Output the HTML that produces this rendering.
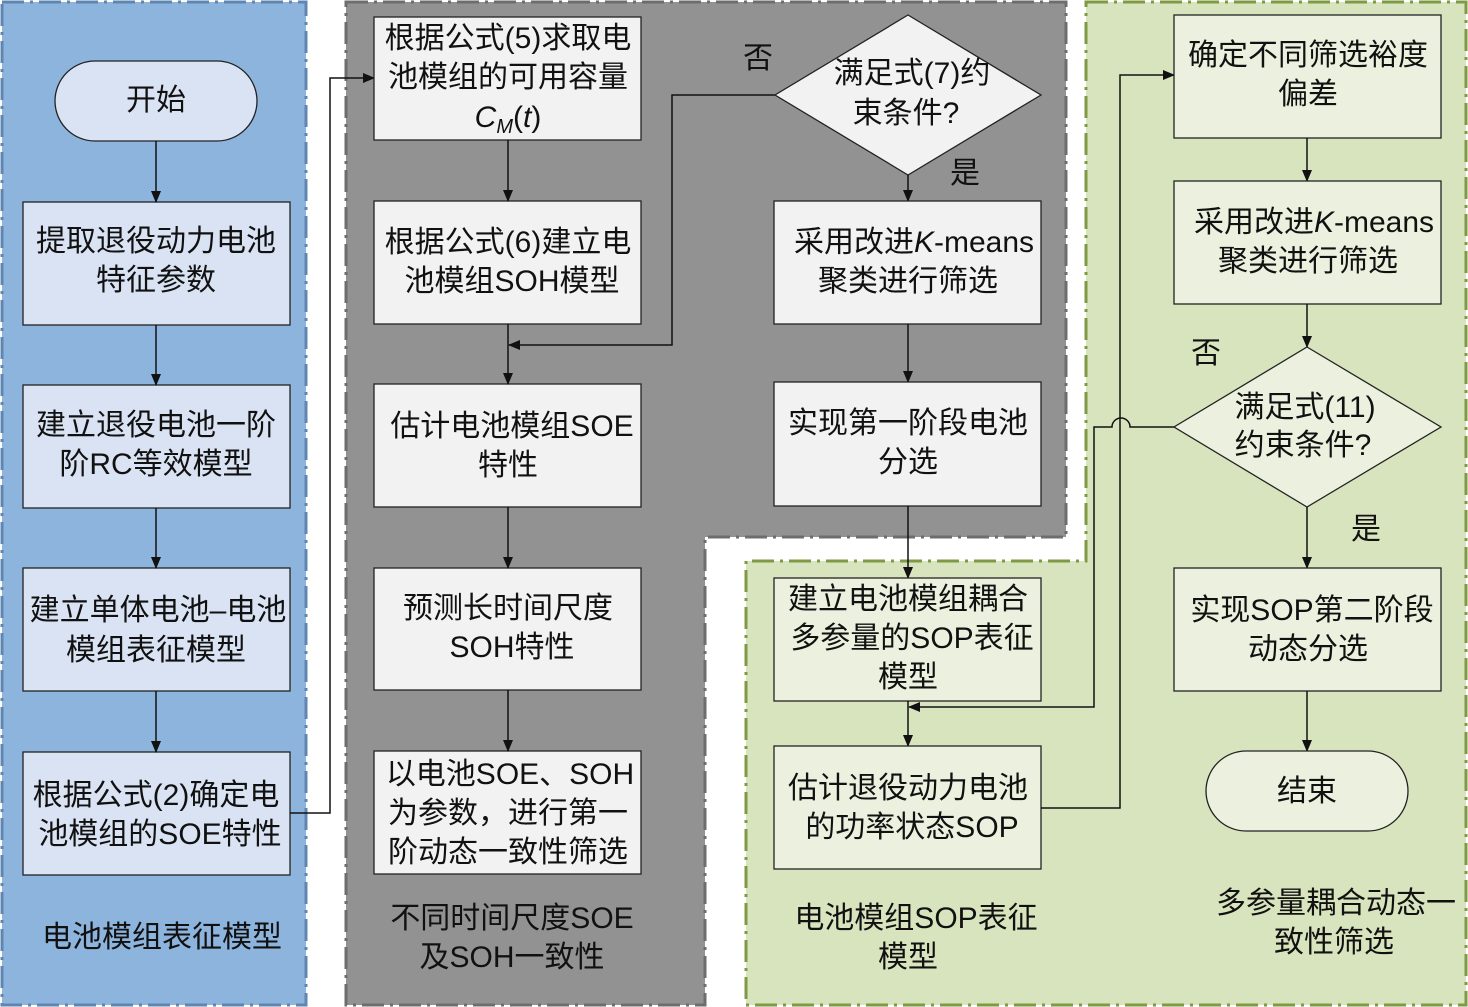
<!DOCTYPE html>
<html><head><meta charset="utf-8"><style>
html,body{margin:0;padding:0;background:#fff;}
svg{display:block;}
text{font-family:"Liberation Sans","Noto Sans CJK SC",sans-serif;font-size:30px;fill:#111;text-anchor:middle;}
.b{stroke:#222;stroke-width:1.3;}
.l{stroke:#111;stroke-width:1.5;fill:none;}
</style></head><body>
<svg width="1468" height="1007" viewBox="0 0 1468 1007">
<defs><marker id="a" markerWidth="12" markerHeight="10" refX="11" refY="5" orient="auto" markerUnits="userSpaceOnUse"><path d="M0,0 L12,5 L0,10 z" fill="#111"/></marker></defs>
<rect x="2" y="2" width="304" height="1003" fill="#8db4dc" stroke="#5f86b0" stroke-width="3" stroke-dasharray="22,6,3,6"/>
<path d="M346,2 H1066 V537 H705 V1005 H346 Z" fill="#929292" stroke="#6d6d6d" stroke-width="3" stroke-dasharray="22,6,3,6"/>
<path d="M1086,2 H1466 V1005 H746 V561 H1086 Z" fill="#d7e4bd" stroke="#7f9a45" stroke-width="3" stroke-dasharray="22,6,3,6"/>
<rect class="b" x="55" y="61" width="202" height="80" rx="40" fill="#dae3f3"/>
<text x="156" y="110">开始</text>
<rect class="b" x="23" y="202" width="267" height="123" fill="#dae3f3"/>
<text x="156" y="251">提取退役动力电池</text><text x="156" y="290">特征参数</text>
<rect class="b" x="23" y="385" width="267" height="123" fill="#dae3f3"/>
<text x="156" y="435">建立退役电池一阶</text><text x="156" y="474">阶RC等效模型</text>
<rect class="b" x="23" y="568" width="267" height="123" fill="#dae3f3"/>
<text x="158" y="620">建立单体电池–电池</text><text x="156" y="660">模组表征模型</text>
<rect class="b" x="23" y="752" width="267" height="123" fill="#dae3f3"/>
<text x="156" y="805">根据公式(2)确定电</text><text x="160" y="844">池模组的SOE特性</text>
<text x="162" y="947">电池模组表征模型</text>
<line class="l" x1="156" y1="141" x2="156" y2="202" marker-end="url(#a)"/>
<line class="l" x1="156" y1="325" x2="156" y2="385" marker-end="url(#a)"/>
<line class="l" x1="156" y1="508" x2="156" y2="568" marker-end="url(#a)"/>
<line class="l" x1="156" y1="691" x2="156" y2="752" marker-end="url(#a)"/>
<path class="l" d="M290,813 H330 V78 H374" marker-end="url(#a)"/>
<rect class="b" x="374" y="17" width="267" height="123" fill="#f2f2f2"/>
<text x="508" y="48">根据公式(5)求取电</text><text x="508" y="87">池模组的可用容量</text>
<text x="508" y="127"><tspan font-style="italic">C</tspan><tspan font-style="italic" font-size="20" dy="6">M</tspan><tspan dy="-6">(</tspan><tspan font-style="italic">t</tspan>)</text>
<rect class="b" x="374" y="201" width="267" height="123" fill="#f2f2f2"/>
<text x="508" y="252">根据公式(6)建立电</text><text x="512" y="291">池模组SOH模型</text>
<rect class="b" x="374" y="384" width="267" height="123" fill="#f2f2f2"/>
<text x="512" y="436">估计电池模组SOE</text><text x="508" y="475">特性</text>
<rect class="b" x="374" y="568" width="267" height="122" fill="#f2f2f2"/>
<text x="508" y="618">预测长时间尺度</text><text x="512" y="657">SOH特性</text>
<rect class="b" x="374" y="751" width="267" height="123" fill="#f2f2f2"/>
<text x="510" y="784">以电池SOE、SOH</text><text x="508" y="823">为参数，进行第一</text><text x="508" y="862">阶动态一致性筛选</text>
<text x="512" y="928">不同时间尺度SOE</text><text x="512" y="967">及SOH一致性</text>
<line class="l" x1="508" y1="140" x2="508" y2="201" marker-end="url(#a)"/>
<line class="l" x1="508" y1="324" x2="508" y2="384" marker-end="url(#a)"/>
<line class="l" x1="508" y1="507" x2="508" y2="568" marker-end="url(#a)"/>
<line class="l" x1="508" y1="690" x2="508" y2="751" marker-end="url(#a)"/>
<path class="l" d="M775,95 H672 V345 H509" marker-end="url(#a)"/>
<polygon class="b" points="908,15 1041,95 908,175 775,95" fill="#f2f2f2"/>
<text x="912" y="83">满足式(7)约</text><text x="906" y="123">束条件?</text>
<text x="758" y="68">否</text><text x="965" y="183">是</text>
<line class="l" x1="908" y1="175" x2="908" y2="201" marker-end="url(#a)"/>
<rect class="b" x="774" y="201" width="267" height="123" fill="#f2f2f2"/>
<text x="914" y="252">采用改进<tspan font-style="italic">K</tspan>-means</text><text x="908" y="291">聚类进行筛选</text>
<line class="l" x1="908" y1="324" x2="908" y2="382" marker-end="url(#a)"/>
<rect class="b" x="774" y="382" width="267" height="124" fill="#f2f2f2"/>
<text x="908" y="433">实现第一阶段电池</text><text x="908" y="472">分选</text>
<line class="l" x1="908" y1="506" x2="908" y2="578" marker-end="url(#a)"/>
<rect class="b" x="774" y="578" width="267" height="123" fill="#ebf1de"/>
<text x="908" y="609">建立电池模组耦合</text><text x="912" y="648">多参量的SOP表征</text><text x="908" y="687">模型</text>
<line class="l" x1="908" y1="701" x2="908" y2="746" marker-end="url(#a)"/>
<rect class="b" x="774" y="746" width="267" height="123" fill="#ebf1de"/>
<text x="908" y="798">估计退役动力电池</text><text x="912" y="837">的功率状态SOP</text>
<text x="916" y="928">电池模组SOP表征</text><text x="908" y="967">模型</text>
<path class="l" d="M1041,808 H1120 V75 H1174" marker-end="url(#a)"/>
<path class="l" d="M1174,427 H1130 A9,9 0 0 0 1112,427 H1094 V707 H909" marker-end="url(#a)"/>
<rect class="b" x="1174" y="15" width="267" height="123" fill="#ebf1de"/>
<text x="1308" y="65">确定不同筛选裕度</text><text x="1308" y="104">偏差</text>
<line class="l" x1="1307" y1="138" x2="1307" y2="181" marker-end="url(#a)"/>
<rect class="b" x="1174" y="181" width="267" height="123" fill="#ebf1de"/>
<text x="1314" y="232">采用改进<tspan font-style="italic">K</tspan>-means</text><text x="1308" y="271">聚类进行筛选</text>
<line class="l" x1="1307" y1="304" x2="1307" y2="347" marker-end="url(#a)"/>
<polygon class="b" points="1307,347 1441,427 1307,507 1174,427" fill="#ebf1de"/>
<text x="1305" y="417">满足式(11)</text><text x="1303" y="455">约束条件?</text>
<text x="1206" y="363">否</text><text x="1366" y="539">是</text>
<line class="l" x1="1307" y1="507" x2="1307" y2="568" marker-end="url(#a)"/>
<rect class="b" x="1174" y="568" width="267" height="123" fill="#ebf1de"/>
<text x="1312" y="620">实现SOP第二阶段</text><text x="1308" y="659">动态分选</text>
<line class="l" x1="1307" y1="691" x2="1307" y2="751" marker-end="url(#a)"/>
<rect class="b" x="1206" y="751" width="202" height="80" rx="40" fill="#ebf1de"/>
<text x="1307" y="801">结束</text>
<text x="1336" y="913">多参量耦合动态一</text><text x="1334" y="952">致性筛选</text>
</svg>
</body></html>
